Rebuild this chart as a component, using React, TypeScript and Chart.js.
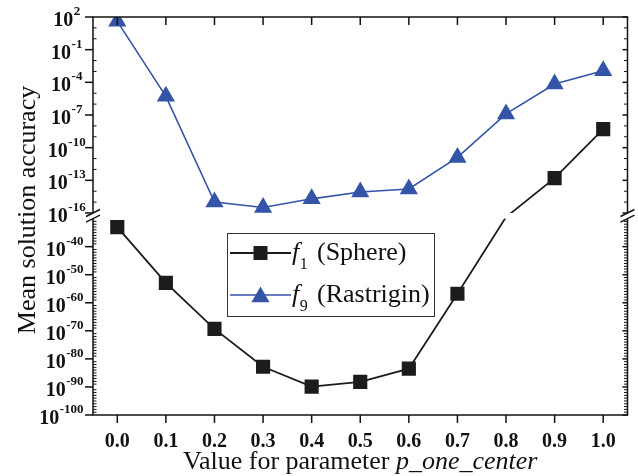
import React, { useEffect, useRef } from 'react';
import { Chart, registerables } from 'chart.js';

Chart.register(...registerables);

// ---------- data ----------
const xValues = [0.0, 0.1, 0.2, 0.3, 0.4, 0.5, 0.6, 0.7, 0.8, 0.9, 1.0];
const xTickLabels = ['0.0', '0.1', '0.2', '0.3', '0.4', '0.5', '0.6', '0.7', '0.8', '0.9', '1.0'];
const sphereValues = [8.9e-34, 1.26e-53, 5.0e-70, 1.6e-83, 1.26e-90, 6.3e-89, 3.2e-84, 1.6e-57, 1e-26, 1.6e-13, 5.0e-9];
const rastriginValues = [40, 5.2e-6, 1.0e-15, 3.2e-16, 2.0e-15, 8.5e-15, 1.6e-14, 1.26e-11, 1.26e-7, 7.1e-5, 1.15e-3];
const upperTickExponents = [2, -1, -4, -7, -10, -13, -16];
const lowerTickExponents = [-40, -50, -60, -70, -80, -90, -100];
const legendSymbols = ['f', 'f'];
const legendSubscripts = ['1', '9'];
const legendNames = ['(Sphere)', '(Rastrigin)'];
const yTitle = 'Mean solution accuracy';
const xTitlePlain = 'Value for parameter ';
const xTitleItalic = 'p_one_center';

// ---------- broken log axis layout ----------
const TOP_MIN = -16, TOP_MAX = 2;
const BOT_MIN = -100, BOT_MAX = -30;
const BOT_H = 196.4, GAP_H = 5.6, TOP_H = 196;
const TOTAL_H = BOT_H + GAP_H + TOP_H;

function toD(v: number): number {
  const lv = Math.log10(v);
  if (lv <= BOT_MAX) return ((lv - BOT_MIN) / (BOT_MAX - BOT_MIN)) * BOT_H;
  if (lv < TOP_MIN) return BOT_H + ((lv - BOT_MAX) / (TOP_MIN - BOT_MAX)) * GAP_H;
  return BOT_H + GAP_H + ((lv - TOP_MIN) / (TOP_MAX - TOP_MIN)) * TOP_H;
}
const inGap = (d: number) => d > BOT_H + 0.01 && d < BOT_H + GAP_H - 0.01;

const BLACK = '#1c1c1c';
const BLUE = '#3454a8';
const SERIF = '"Liberation Serif", "Times New Roman", serif';

function line(ctx: CanvasRenderingContext2D, x1: number, y1: number, x2: number, y2: number) {
  ctx.beginPath();
  ctx.moveTo(x1, y1);
  ctx.lineTo(x2, y2);
  ctx.stroke();
}

function drawSquare(ctx: CanvasRenderingContext2D, x: number, y: number, color: string) {
  ctx.fillStyle = color;
  ctx.fillRect(x - 7, y - 7, 14, 14);
}
function drawTriangle(ctx: CanvasRenderingContext2D, x: number, y: number, color: string) {
  const r = 10.5;
  ctx.fillStyle = color;
  ctx.beginPath();
  ctx.moveTo(x, y - r);
  ctx.lineTo(x + r * 0.866, y + r * 0.5);
  ctx.lineTo(x - r * 0.866, y + r * 0.5);
  ctx.closePath();
  ctx.fill();
}

const axesPlugin = {
  id: 'brokenAxes',
  afterDatasetsDraw(chart: any) {
    const { ctx, chartArea: a, scales } = chart;
    const yS = scales.y;
    const gTop = yS.getPixelForValue(BOT_H + GAP_H);
    const gBot = yS.getPixelForValue(BOT_H);
    ctx.save();
    ctx.fillStyle = '#ffffff';
    ctx.fillRect(a.left + 1, gTop, a.right - a.left - 2, gBot - gTop);
    ctx.restore();
  },
  afterDraw(chart: any) {
    const { ctx, chartArea: a, scales } = chart;
    const xS = scales.x, yS = scales.y;
    const L = a.left, R = a.right, T = a.top, B = a.bottom;
    const yPix = (e: number) => yS.getPixelForValue(toD(Math.pow(10, e)));
    const gTop = yS.getPixelForValue(BOT_H + GAP_H);
    const gBot = yS.getPixelForValue(BOT_H);

    ctx.save();
    ctx.strokeStyle = '#111';
    ctx.lineWidth = 1.5;
    ctx.lineCap = 'butt';
    // frame
    line(ctx, L - 0.75, T, R + 0.75, T);
    line(ctx, L - 0.75, B, R + 0.75, B);
    line(ctx, L, T, L, gTop);
    line(ctx, L, gBot, L, B);
    line(ctx, R, T, R, gTop);
    line(ctx, R, gBot, R, B);
    // break slashes
    for (const xx of [L, R]) {
      for (const yy of [gTop, gBot]) {
        line(ctx, xx - 7, yy + 3.5, xx + 7, yy - 3.5);
      }
    }

    // y ticks
    const majorsTop = new Set(upperTickExponents);
    const majorsBot = new Set(lowerTickExponents);
    ctx.lineWidth = 1.5;
    for (const e of upperTickExponents.concat(lowerTickExponents)) {
      const p = yPix(e);
      line(ctx, L - 8, p, L, p);
      line(ctx, R - 5, p, R, p);
    }
    ctx.lineWidth = 1;
    for (let e = TOP_MIN; e <= TOP_MAX; e++) {
      if (majorsTop.has(e)) continue;
      const p = yPix(e);
      line(ctx, L, p, L + 3.5, p);
      line(ctx, R - 3.5, p, R, p);
    }
    for (let e = BOT_MIN; e < BOT_MAX; e++) {
      if (majorsBot.has(e)) continue;
      const p = yPix(e);
      line(ctx, L, p, L + 3.5, p);
      line(ctx, R - 3.5, p, R, p);
    }

    // x ticks
    ctx.lineWidth = 1.5;
    for (const xv of xValues) {
      const px = xS.getPixelForValue(xv);
      line(ctx, px, B, px, B + 8);
      line(ctx, px, T, px, T + 8);
    }

    // y tick labels
    ctx.fillStyle = '#111';
    ctx.textAlign = 'left';
    ctx.textBaseline = 'alphabetic';
    const baseFont = `bold 20px ${SERIF}`;
    const expFont = `bold 13px ${SERIF}`;
    const drawPow = (e: number, mode: 'center' | 'right') => {
      const p = yPix(e);
      ctx.font = baseFont;
      const w1 = ctx.measureText('10').width;
      ctx.font = expFont;
      const es = String(e);
      const w2 = ctx.measureText(es).width;
      const start = mode === 'center' ? 66.5 - (w1 + w2) / 2 : 83 - (w1 + w2);
      ctx.font = baseFont;
      ctx.fillText('10', start, p + 9);
      ctx.font = expFont;
      ctx.fillText(es, start + w1 + 0.5, p - 2);
    };
    upperTickExponents.forEach((e) => drawPow(e, 'center'));
    lowerTickExponents.forEach((e) => drawPow(e, 'right'));

    // x tick labels
    ctx.font = `bold 20px ${SERIF}`;
    ctx.textAlign = 'center';
    xValues.forEach((xv, i) => {
      ctx.fillText(xTickLabels[i], xS.getPixelForValue(xv), 447);
    });

    // x title
    ctx.textAlign = 'left';
    ctx.font = `26px ${SERIF}`;
    const wPlain = ctx.measureText(xTitlePlain).width;
    ctx.font = `italic 26px ${SERIF}`;
    const wIt = ctx.measureText(xTitleItalic).width;
    const cx = (L + R) / 2;
    const sx = cx - (wPlain + wIt) / 2;
    ctx.font = `26px ${SERIF}`;
    ctx.fillText(xTitlePlain, sx, 469);
    ctx.font = `italic 26px ${SERIF}`;
    ctx.fillText(xTitleItalic, sx + wPlain, 469);

    // y title
    ctx.save();
    ctx.translate(35, 210);
    ctx.rotate(-Math.PI / 2);
    ctx.textAlign = 'center';
    ctx.font = `26px ${SERIF}`;
    ctx.fillText(yTitle, 0, 0);
    ctx.restore();

    // legend
    const bx = 227.5, by = 233.5, bw = 207, bh = 83;
    ctx.fillStyle = '#ffffff';
    ctx.fillRect(bx, by, bw, bh);
    ctx.strokeStyle = '#333';
    ctx.lineWidth = 1;
    ctx.strokeRect(bx, by, bw, bh);
    const rows = [253, 295];
    const colors = [BLACK, BLUE];
    rows.forEach((ry, i) => {
      ctx.strokeStyle = colors[i];
      ctx.lineWidth = i === 0 ? 1.8 : 1.6;
      line(ctx, 230, ry, 291, ry);
      if (i === 0) drawSquare(ctx, 260.5, ry, colors[i]);
      else drawTriangle(ctx, 260.5, ry + 2, colors[i]);
      ctx.fillStyle = '#111';
      ctx.textAlign = 'left';
      const tb = ry + 7;
      ctx.font = `italic 26px ${SERIF}`;
      ctx.fillText(legendSymbols[i], 292, tb);
      const wf = ctx.measureText(legendSymbols[i]).width;
      ctx.font = `16px ${SERIF}`;
      ctx.fillText(legendSubscripts[i], 292 + wf + 0.5, tb + 9);
      ctx.font = `26px ${SERIF}`;
      ctx.fillText(legendNames[i], 317, tb);
    });

    ctx.restore();
  },
};

export default function App() {
  const ref = useRef<HTMLCanvasElement | null>(null);

  useEffect(() => {
    if (!ref.current) return;
    const chart = new Chart(ref.current, {
      type: 'line',
      data: {
        datasets: [
          {
            label: 'f1 (Sphere)',
            data: xValues.map((x, i) => ({ x, y: toD(sphereValues[i]) })),
            borderColor: BLACK,
            backgroundColor: BLACK,
            borderWidth: 1.8,
            pointStyle: 'rect',
            pointRadius: (c: any) => (c.parsed && inGap(c.parsed.y) ? 0 : 10),
            pointBorderWidth: 0,
            pointBackgroundColor: BLACK,
            tension: 0,
            clip: { left: 0, top: 0, right: 0, bottom: 0 },
          },
          {
            label: 'f9 (Rastrigin)',
            data: xValues.map((x, i) => ({ x, y: toD(rastriginValues[i]) })),
            borderColor: BLUE,
            backgroundColor: BLUE,
            borderWidth: 1.6,
            pointStyle: 'triangle',
            pointRadius: (c: any) => (c.parsed && inGap(c.parsed.y) ? 0 : 10.5),
            pointBorderWidth: 0,
            pointBackgroundColor: BLUE,
            tension: 0,
            clip: { left: 0, top: 0, right: 0, bottom: 0 },
          },
        ],
      },
      options: {
        responsive: false,
        animation: false,
        layout: { padding: { left: 93, top: 17, right: 10, bottom: 61 } },
        scales: {
          x: { type: 'linear', display: false, min: -0.05, max: 1.05 },
          y: { type: 'linear', display: false, min: 0, max: TOTAL_H },
        },
        plugins: {
          legend: { display: false },
          tooltip: { enabled: false },
        },
        events: [],
      } as any,
      plugins: [axesPlugin],
    });
    return () => chart.destroy();
  }, []);

  return (
    <div style={{ position: 'fixed', left: 0, top: 0, width: 638, height: 476, background: '#fff' }}>
      <canvas ref={ref} width={638} height={476} style={{ display: 'block' }} />
    </div>
  );
}
